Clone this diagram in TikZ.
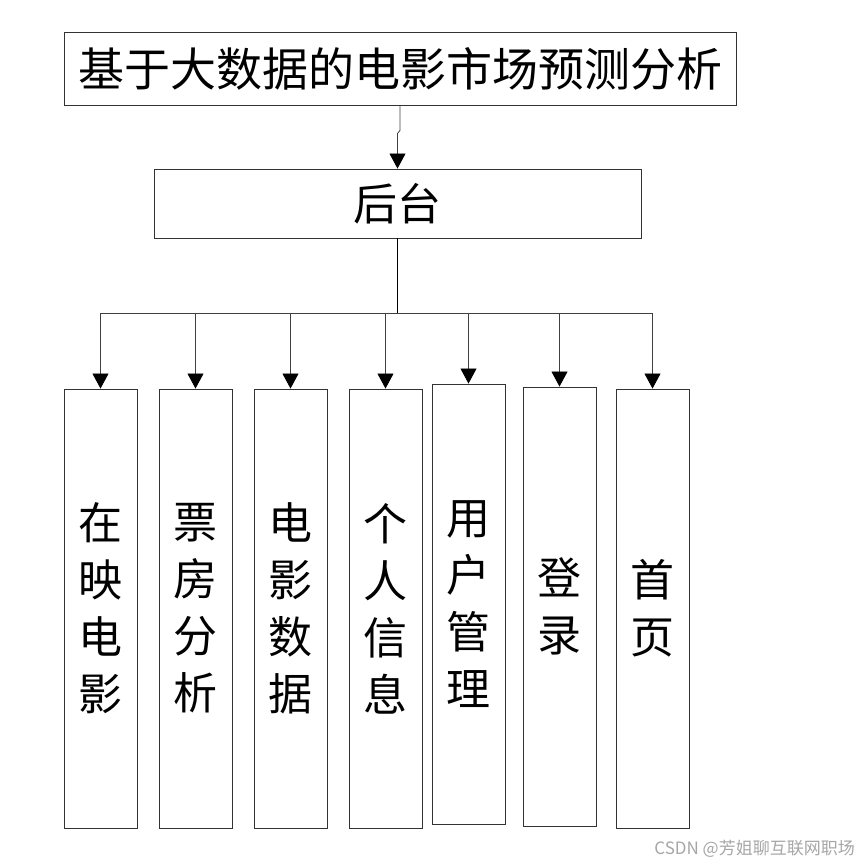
\documentclass[tikz,border=0pt]{standalone}
\usepackage{fontspec}
\newfontfamily\cjk{Noto Sans CJK SC}
\usetikzlibrary{arrows.meta}
\begin{document}
\begin{tikzpicture}[x=1pt,y=-1pt]
\tikzset{boite/.style={draw=black!80, line width=0.9pt, inner sep=0pt, align=center},
  grand/.style={font=\cjk\fontsize{46}{57}\selectfont},
  moyen/.style={font=\cjk\fontsize{44}{57}\selectfont},
  colonne/.style={boite, moyen, minimum width=73pt, minimum height=439pt},
  fleche/.style={draw=black!75, line width=0.8pt, -{Triangle[length=15pt,width=16pt,color=black]}}}
\useasboundingbox (0,0) rectangle (858,864);
\node[boite, grand, minimum width=672pt, minimum height=73pt] (T) at (400,68.5) {基于大数据的电影市场预测分析};
\node[boite, moyen, minimum width=487pt, minimum height=69pt] (H) at (397.5,203.5) {后台};
\node[colonne] (B1) at (100.5,608.5) {在\\映\\电\\影};
\node[colonne] (B2) at (195.5,608.5) {票\\房\\分\\析};
\node[colonne] (B3) at (290.5,608.5) {电\\影\\数\\据};
\node[colonne] (B4) at (385.5,608.5) {个\\人\\信\\息};
\node[colonne, minimum height=440pt] (B5) at (468.5,604) {用\\户\\管\\理};
\node[colonne] (B6) at (559.5,606.5) {登\\录};
\node[colonne] (B7) at (652.5,608.5) {首\\页};
\coordinate (bus) at (397.5,313);
% haut vers le milieu
\draw[fleche] (T.south) -- ++(0,25) -- ++(-2.5,3) -- (H.north);
\draw[line width=1.6pt] (H.south) -- (bus);
\draw[draw=black!75, line width=0.8pt] (B1.north |- bus) -- (B7.north |- bus);
\foreach \b in {B1,B2,B3,B4,B5,B6,B7}
  \draw[fleche] (\b.north |- bus) -- (\b.north);
\node[text=black!35, font=\cjk\fontsize{17}{19}\selectfont, anchor=east, inner sep=0pt] (wm) at (855,849) {CSDN @芳姐聊互联网职场};
\end{tikzpicture}
\end{document}
